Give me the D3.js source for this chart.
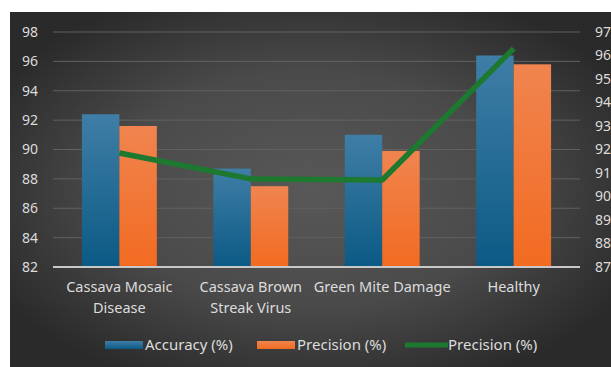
<!DOCTYPE html>
<html><head><meta charset="utf-8">
<script src="https://cdn.jsdelivr.net/npm/d3@7"></script>
<style>html,body{margin:0;padding:0;background:#fff;}svg{display:block;}</style>
</head><body>
<svg id="chart" width="611" height="367"></svg>
<script>
const categories = [["Cassava Mosaic","Disease"],["Cassava Brown","Streak Virus"],["Green Mite Damage"],["Healthy"]];
const accuracy = [92.4, 88.7, 91.0, 96.4];
const precisionBars = [91.6, 87.5, 89.9, 95.8];
const precisionLine = [91.85, 90.75, 90.7, 96.3];
const leftTicks = [82, 84, 86, 88, 90, 92, 94, 96, 98];
const rightTicks = [87, 88, 89, 90, 91, 92, 93, 94, 95, 96, 97];
const legendLabels = ["Accuracy (%)", "Precision (%)", "Precision (%)"];

const svg = d3.select("#chart");
const W = 611, H = 367;
const font = "'Noto Sans', sans-serif";
const defs = svg.append("defs");
const bg = defs.append("radialGradient").attr("id","bg").attr("cx","50%").attr("cy","50%").attr("r","60%");
bg.append("stop").attr("offset","0%").attr("stop-color","#585858");
bg.append("stop").attr("offset","55%").attr("stop-color","#4a4a4a");
bg.append("stop").attr("offset","100%").attr("stop-color","#2a2a2a");
const gB = defs.append("linearGradient").attr("id","gBlue").attr("x1",0).attr("y1",0).attr("x2",0).attr("y2",1);
gB.append("stop").attr("offset","0%").attr("stop-color","#3f7ea6");
gB.append("stop").attr("offset","100%").attr("stop-color","#0b5a85");
const gO = defs.append("linearGradient").attr("id","gOrange").attr("x1",0).attr("y1",0).attr("x2",0).attr("y2",1);
gO.append("stop").attr("offset","0%").attr("stop-color","#f0844f");
gO.append("stop").attr("offset","100%").attr("stop-color","#f26b21");

svg.append("rect").attr("x",10).attr("y",12).attr("width",W-10).attr("height",H-12).attr("fill","url(#bg)");

const x0 = d3.scaleBand().domain(d3.range(categories.length)).range([53,580]).paddingInner(0.43).paddingOuter(0.22);
const x1 = d3.scaleBand().domain([0,1]).range([0,x0.bandwidth()]);
const yL = d3.scaleLinear().domain([82,98]).range([267,32]);
const yR = d3.scaleLinear().domain([87,97]).range([267,32]);

// gridlines
svg.append("g").selectAll("line").data(leftTicks.slice(1)).join("line")
  .attr("x1",53).attr("x2",580).attr("y1",d=>yL(d)).attr("y2",d=>yL(d))
  .attr("stroke","#616161").attr("stroke-width",1);

// left axis
const axL = svg.append("g").attr("transform","translate(53,0)")
  .call(d3.axisLeft(yL).tickValues(leftTicks).tickSize(0).tickPadding(15));
axL.select(".domain").remove();
axL.selectAll("text").attr("fill","#dcdcdc").attr("font-size",14).attr("font-family",font);

const axR = svg.append("g").attr("transform","translate(580,0)")
  .call(d3.axisRight(yR).tickValues(rightTicks).tickSize(0).tickPadding(15));
axR.select(".domain").remove();
axR.selectAll("text").attr("fill","#dcdcdc").attr("font-size",14).attr("font-family",font);

// bars
const groups = svg.append("g").selectAll("g").data(categories).join("g")
  .attr("transform",(d,i)=>`translate(${x0(i)},0)`);
groups.append("rect").attr("x",x1(0)).attr("width",x1.bandwidth())
  .attr("y",(d,i)=>yL(accuracy[i])).attr("height",(d,i)=>yL(82)-yL(accuracy[i])).attr("fill","url(#gBlue)");
groups.append("rect").attr("x",x1(1)).attr("width",x1.bandwidth())
  .attr("y",(d,i)=>yL(precisionBars[i])).attr("height",(d,i)=>yL(82)-yL(precisionBars[i])).attr("fill","url(#gOrange)");

// baseline
svg.append("line").attr("x1",53).attr("x2",580).attr("y1",yL(82)).attr("y2",yL(82)).attr("stroke","#c8c8c8").attr("stroke-width",2);

// line
const line = d3.line().x((d,i)=>x0(i)+x0.bandwidth()/2).y(d=>yR(d));
svg.append("path").datum(precisionLine).attr("d",line).attr("fill","none")
  .attr("stroke","#1d7830").attr("stroke-width",5.5).attr("stroke-linejoin","round");

// category labels
const cl = svg.append("g").selectAll("text").data(categories).join("text")
  .attr("text-anchor","middle").attr("fill","#dcdcdc").attr("font-size",14.5).attr("font-family",font)
  .attr("x",(d,i)=>x0(i)+x0.bandwidth()/2).attr("y",292);
cl.selectAll("tspan").data(d=>d).join("tspan")
  .attr("x",function(){return d3.select(this.parentNode).attr("x");})
  .attr("dy",(d,i)=>i===0?0:21).text(d=>d);

// legend
const lg = svg.append("g");
const items = [
  {x:105, label:legendLabels[0], type:"rect", fill:"url(#gBlue)"},
  {x:257, label:legendLabels[1], type:"rect", fill:"url(#gOrange)"},
  {x:405, label:legendLabels[2], type:"line", fill:"#1d7830"}
];
items.forEach(it=>{
  if(it.type==="rect") lg.append("rect").attr("x",it.x).attr("y",341).attr("width",38).attr("height",8).attr("fill",it.fill);
  else lg.append("line").attr("x1",it.x).attr("x2",it.x+43).attr("y1",345).attr("y2",345).attr("stroke",it.fill).attr("stroke-width",5);
  lg.append("text").attr("x",it.x+(it.type==="rect"?40:43)).attr("y",350).attr("fill","#dcdcdc")
    .attr("font-size",15).attr("font-family",font).text(it.label);
});
</script>
</body></html>
